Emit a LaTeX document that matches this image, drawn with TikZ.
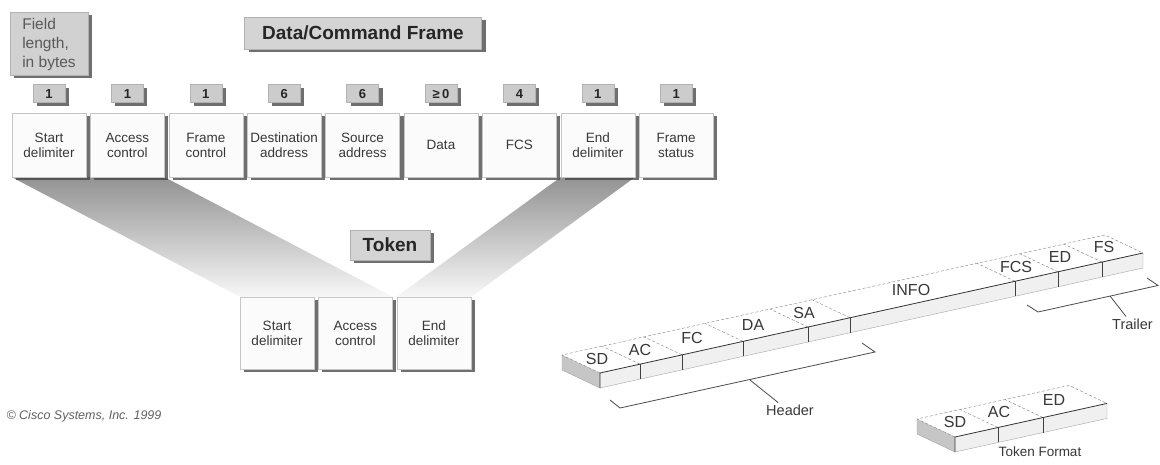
\documentclass[tikz,border=0pt]{standalone}
\usepackage{fontspec}
\setmainfont{Liberation Sans}
\usetikzlibrary{positioning, shadows, backgrounds}

\definecolor{ink}{gray}{0.22}
\definecolor{tabgray}{gray}{0.80}

\tikzset{
  boxshadow/.style={drop shadow={shadow xshift=4pt, shadow yshift=-3pt, fill=black!75, opacity=.75}},
  fieldbox/.style={draw=gray!45, fill=gray!3, minimum width=74pt, minimum height=64pt, inner sep=1pt,
    align=center, text=ink, font=\fontsize{13.5}{15}\selectfont, boxshadow},
  bytebox/.style={draw=gray!60, fill=tabgray, minimum width=32pt, minimum height=18pt, inner sep=0pt,
    text=black!85, font=\bfseries\fontsize{13}{13}\selectfont, boxshadow},
  titlebox/.style={draw=gray!60, fill=tabgray!85, inner xsep=8pt, minimum height=32pt,
    text=black!85, font=\bfseries\fontsize{19}{20}\selectfont, boxshadow},
  barlabel/.style={text=ink, inner sep=1pt, font=\fontsize{16}{16}\selectfont},
  braclabel/.style={text=ink, inner sep=2pt, font=\fontsize{14.5}{15}\selectfont},
  bracket/.style={draw=black!70, line width=0.8pt},
}

\begin{document}
\begin{tikzpicture}[x=1pt, y=-1pt]
  \useasboundingbox (0,0) rectangle (1160,465);
  \clip (0,0) rectangle (1160,465);

  % data/command frame
  \node[titlebox, minimum width=237pt] (frame) at (363,33) {Data/Command Frame};
  \node[bytebox, fill=tabgray!90, minimum width=78pt, minimum height=63pt, align=left,
        text=black!65, font=\fontsize{15.5}{19}\selectfont] (flen) at (49,44) {Field\\length,\\in bytes};

  \node[fieldbox] (sd) at (49,145) {Start\\delimiter};
  \node[fieldbox, right=4pt of sd] (ac) {Access\\control};
  \node[fieldbox, right=4pt of ac] (fc) {Frame\\control};
  \node[fieldbox, right=4pt of fc] (da) {Destination\\address};
  \node[fieldbox, right=4pt of da] (sa) {Source\\address};
  \node[fieldbox, right=4pt of sa] (data) {Data};
  \node[fieldbox, right=4pt of data] (fcs) {FCS};
  \node[fieldbox, right=4pt of fcs] (ed) {End\\delimiter};
  \node[fieldbox, right=4pt of ed] (fs) {Frame\\status};

  \node[bytebox, above=10pt of sd] (nsd) {1};
  \node[bytebox, above=10pt of ac] (nac) {1};
  \node[bytebox, above=10pt of fc] (nfc) {1};
  \node[bytebox, above=10pt of da] (nda) {6};
  \node[bytebox, above=10pt of sa] (nsa) {6};
  \node[bytebox, above=10pt of data] (ndata) {≥\,0};
  \node[bytebox, above=10pt of fcs] (nfcs) {4};
  \node[bytebox, above=10pt of ed] (ned) {1};
  \node[bytebox, above=10pt of fs] (nfs) {1};

  % token
  \node[titlebox, minimum width=80pt, minimum height=30pt] (token) at (390,245) {Token};
  \node[fieldbox, minimum height=72pt] (tsd) at (277,333) {Start\\delimiter};
  \node[fieldbox, minimum height=72pt, right=4pt of tsd] (tac) {Access\\control};
  \node[fieldbox, minimum height=72pt, right=4pt of tac] (ted) {End\\delimiter};

  \begin{scope}[on background layer]
    \fill[white] (0,0) rectangle (1160,465);
    \shade[top color=gray!85, bottom color=gray!6]
      (sd.south west) -- (ac.south east) -- (tac.north east) -- (tsd.north west) -- cycle;
    \shade[top color=gray!85, bottom color=gray!6]
      (ed.south west) -- (ed.south east) -- (ted.north east) -- (ted.north west) -- cycle;
  \end{scope}

  \node[anchor=west, text=gray!75!black, font=\itshape\fontsize{12.5}{13}\selectfont] (copy) at (3,416)
    {© Cisco Systems, Inc. 1999};

  % frame as a bar
  \begin{scope}[shift={(600,373)}, x={(1pt,0.221pt)}, y={(-38pt,18pt)}, z={(0pt,-15pt)}]
    \fill[gray!45] (0,1,0) -- (0,0,0) -- (0,0,1) -- (0,1,1) -- cycle;
    \fill[gray!12] (0,0,0) -- (543,0,0) -- (543,0,1) -- (0,0,1) -- cycle;
    \draw[gray!70] (0,1,0) -- (0,1,1) -- (0,0,1) -- (543,0,1) -- (543,0,0);
    \draw[gray, densely dashed] (0,0,0) -- (0,1,0) -- (543,1,0) -- (543,0,0);
    \foreach \a in {40,82,143,208,250,415,458,502} {
      \draw[gray, densely dashed] (\a,0,0) -- (\a,1,0);
      \draw[black!75, thick] (\a,0,0) -- (\a,0,1);
    }
    \draw[black!80, thick] (0,0,1) -- (0,0,0) -- (543,0,0);
    \foreach \a/\t in {18/SD, 61/AC, 113/FC, 174/DA, 225/SA, 332/INFO, 437/FCS, 481/ED, 525/FS}
      \node[barlabel] (bar-\t) at (\a,0.55,0) {\t};
  \end{scope}

  % header and trailer brackets
  \coordinate (hl) at (620,408);
  \coordinate (hr) at (875,352);
  \coordinate (hmid) at (750,380);
  \draw[bracket] (610,400) -- (hl) -- (hr) -- (862,343);
  \node[braclabel] (header) at (790,410) {Header};
  \draw[bracket] (hmid) -- ([xshift=14pt]header.north west);

  \coordinate (tl) at (1038,312);
  \coordinate (tr) at (1158,285.5);
  \coordinate (tmid) at (1110,296);
  \draw[bracket] (1027,305) -- (tl) -- (tr) -- (1147,278);
  \node[braclabel, anchor=west] (trailer) at (1110,324) {Trailer};
  \draw[bracket] (tmid) -- ([xshift=16pt]trailer.north west);

  % token as a bar
  \begin{scope}[shift={(955,437)}, x={(1pt,0.221pt)}, y={(-38pt,18pt)}, z={(0pt,-15pt)}]
    \fill[gray!45] (0,1,0) -- (0,0,0) -- (0,0,1) -- (0,1,1) -- cycle;
    \fill[gray!12] (0,0,0) -- (152,0,0) -- (152,0,1) -- (0,0,1) -- cycle;
    \draw[gray!70] (0,1,0) -- (0,1,1) -- (0,0,1) -- (152,0,1) -- (152,0,0);
    \draw[gray, densely dashed] (0,0,0) -- (0,1,0) -- (152,1,0) -- (152,0,0);
    \foreach \a in {43,88} {
      \draw[gray, densely dashed] (\a,0,0) -- (\a,1,0);
      \draw[black!75, thick] (\a,0,0) -- (\a,0,1);
    }
    \draw[black!80, thick] (0,0,1) -- (0,0,0) -- (152,0,0);
    \foreach \a/\t in {22/SD, 66/AC, 121/ED}
      \node[barlabel] (tok-\t) at (\a,0.58,0) {\t};
  \end{scope}
  \node[braclabel, font=\fontsize{13.5}{14}\selectfont] (tokfmt) at (1040,452) {Token Format};
\end{tikzpicture}
\end{document}
